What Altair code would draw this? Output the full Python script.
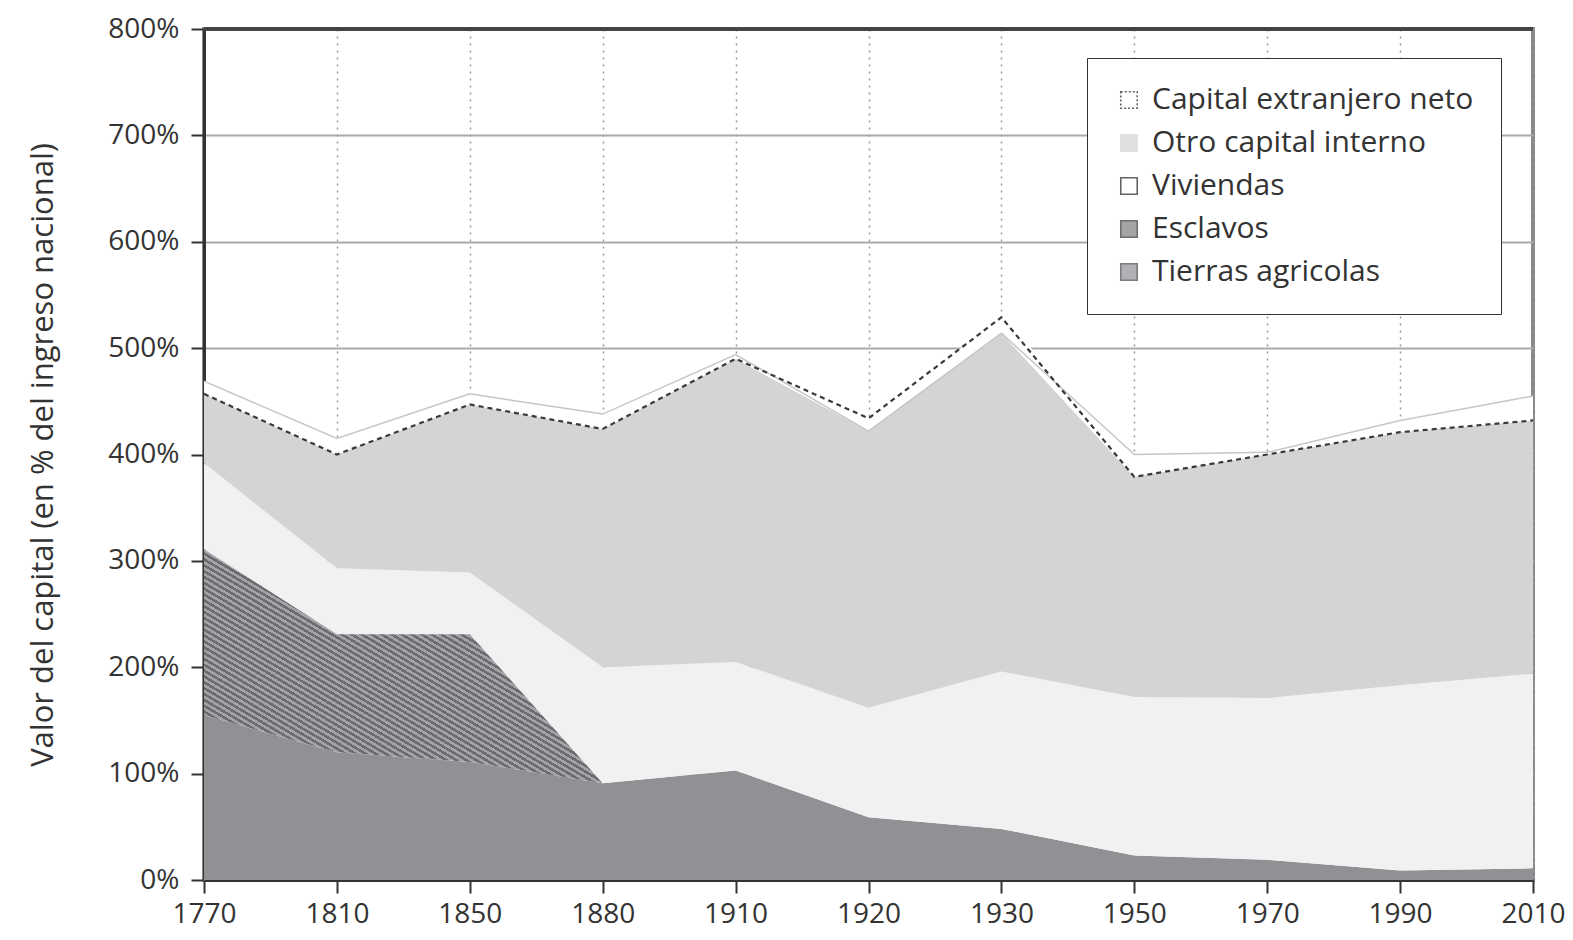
import altair as alt
import pandas as pd

# ---- data (% of national income) ----
years = ["1770", "1810", "1850", "1880", "1910", "1920", "1930", "1950", "1970", "1990", "2010"]
tierras = [155, 120, 111, 91, 103, 59, 48, 23, 19, 9, 11]
esclavos = [156, 111, 120, 0, 0, 0, 0, 0, 0, 0, 0]
viviendas = [81, 62, 58, 109, 102, 103, 148, 149, 152, 174, 183]
otro = [77, 122, 168, 238, 289, 260, 318, 228, 231, 249, 261]
extranjero = [-12, -15, -10, -14, -4, 12, 15, -21, -2, -11, -23]

series = ["Capital extranjero neto", "Otro capital interno", "Viviendas", "Esclavos", "Tierras agricolas"]
y_ticks = [0, 100, 200, 300, 400, 500, 600, 700, 800]

# ---- build tables ----
area_rows, line_rows, slave_rows = [], [], []
for i, yr in enumerate(years):
    t, e, v, o, f = tierras[i], esclavos[i], viviendas[i], otro[i], extranjero[i]
    dom = t + e + v + o
    nat = dom + f
    area_rows.append(dict(year=yr, serie="Tierras agricolas", lo=0, hi=t))
    area_rows.append(dict(year=yr, serie="Viviendas", lo=t + e, hi=t + e + v))
    area_rows.append(dict(year=yr, serie="Otro capital interno", lo=t + e + v, hi=min(dom, nat)))
    area_rows.append(dict(year=yr, serie="Capital extranjero neto", lo=min(dom, nat), hi=max(dom, nat)))
    line_rows.append(dict(year=yr, nacional=nat, interno=dom))
    if i <= 3:
        slave_rows.append(dict(year=yr, lo=t, hi=t + e))

areas_df = pd.DataFrame(area_rows)
lines_df = pd.DataFrame(line_rows)
slaves_df = pd.DataFrame(slave_rows)
legend_df = pd.DataFrame(dict(serie=series, year=[years[0]] * len(series), v=[0] * len(series)))

FONT = "Open Sans"
x_axis = alt.Axis(
    title=None, labelAngle=0, labelFontSize=28, labelPadding=7, labelColor="#333",
    labelAlign="center", labelBaseline="top",
    tickSize=13, tickColor="#333", tickWidth=2, domainColor="#333", domainWidth=3,
    grid=True, gridColor="#9a9a9a", gridDash=[2, 5], gridWidth=1.5,
)
x_scale = alt.Scale(type="point", padding=0)
y_scale = alt.Scale(domain=[0, 800], nice=False)
y_axis = alt.Axis(
    title="Valor del capital (en % del ingreso nacional)", titleFontSize=31, titleFontWeight="normal",
    titleColor="#333", titlePadding=48, values=y_ticks, labelExpr="datum.value + '%'",
    labelFontSize=28, labelPadding=12, labelColor="#333", tickSize=13, tickColor="#333", tickWidth=2,
    domainColor="#333", domainWidth=3, grid=True, gridColor="#aaaaaa", gridWidth=2,
)


def X():
    return alt.X("year:O", sort=years, scale=x_scale, axis=x_axis)


def Y(field):
    return alt.Y(field, scale=y_scale, axis=y_axis, stack=None)


areas = alt.Chart(areas_df).mark_area(interpolate="linear").encode(
    x=X(),
    y=Y("lo:Q"),
    y2="hi:Q",
    color=alt.Color(
        "serie:N",
        scale=alt.Scale(domain=series, range=["#ffffff", "#d3d4d6", "#f0f1f1", "#7d7e81", "#909195"]),
        legend=None,
    ),
)

# hatched slaves band (diagonal stripes via gradient)
N = 80
stops = []
for k in range(N):
    a, b, c = k / N, (k + 0.5) / N, (k + 1) / N
    stops += [
        alt.GradientStop(offset=a, color="#6b6c6f"),
        alt.GradientStop(offset=b, color="#6b6c6f"),
        alt.GradientStop(offset=b, color="#a3a4a7"),
        alt.GradientStop(offset=c, color="#a3a4a7"),
    ]
hatch = alt.Gradient(gradient="linear", stops=stops, x1=0, y1=1, x2=1, y2=0)

slaves = alt.Chart(slaves_df).mark_area(color=hatch, interpolate="linear").encode(
    x=X(), y=Y("lo:Q"), y2="hi:Q",
)

line_int = alt.Chart(lines_df).mark_line(color="#c6c6c6", strokeWidth=1.5).encode(
    x=X(), y=Y("interno:Q")
)
line_nat = alt.Chart(lines_df).mark_line(color="#3a3a3a", strokeWidth=2.2, strokeDash=[5, 4]).encode(
    x=X(), y=Y("nacional:Q")
)

top_border = alt.Chart(legend_df).mark_rule(color="#444", strokeWidth=3).encode(y=alt.datum(800))

leg = alt.Legend(
    title=None, orient="none", legendX=883, legendY=29, labelFont=FONT, labelFontSize=30,
    labelColor="#333", labelLimit=600, symbolType="square", symbolSize=270, symbolStrokeWidth=1.6,
    rowPadding=13, padding=27, strokeColor="#333", fillColor="#ffffff", labelOffset=8,
)
legend_layer = alt.Chart(legend_df).mark_square(size=1, strokeWidth=1.6).encode(
    x=X(),
    y=Y("v:Q"),
    fill=alt.Fill("serie:N", scale=alt.Scale(domain=series,
                  range=["#ffffff", "#d3d4d6", "#ffffff", "#7d7e81", "#909195"]), legend=leg),
    stroke=alt.Stroke("serie:N", scale=alt.Scale(domain=series,
                      range=["#222222", "#d3d4d6", "#222222", "#333333", "#444444"]), legend=leg),
    strokeDash=alt.StrokeDash("serie:N", scale=alt.Scale(domain=series,
                              range=[[2, 2], [1, 0], [1, 0], [1, 0], [1, 0]]), legend=leg),
)

chart = alt.layer(legend_layer, areas, slaves, line_int, line_nat, top_border).properties(
    width=1329, height=851,
    autosize=alt.AutoSizeParams(type="none"),
    padding={"left": 196, "top": 21, "right": 32, "bottom": 50},
).configure(font=FONT).configure_view(stroke="#888", strokeWidth=4)

chart.save("out.html", embed_options={"renderer": "svg", "actions": False})
